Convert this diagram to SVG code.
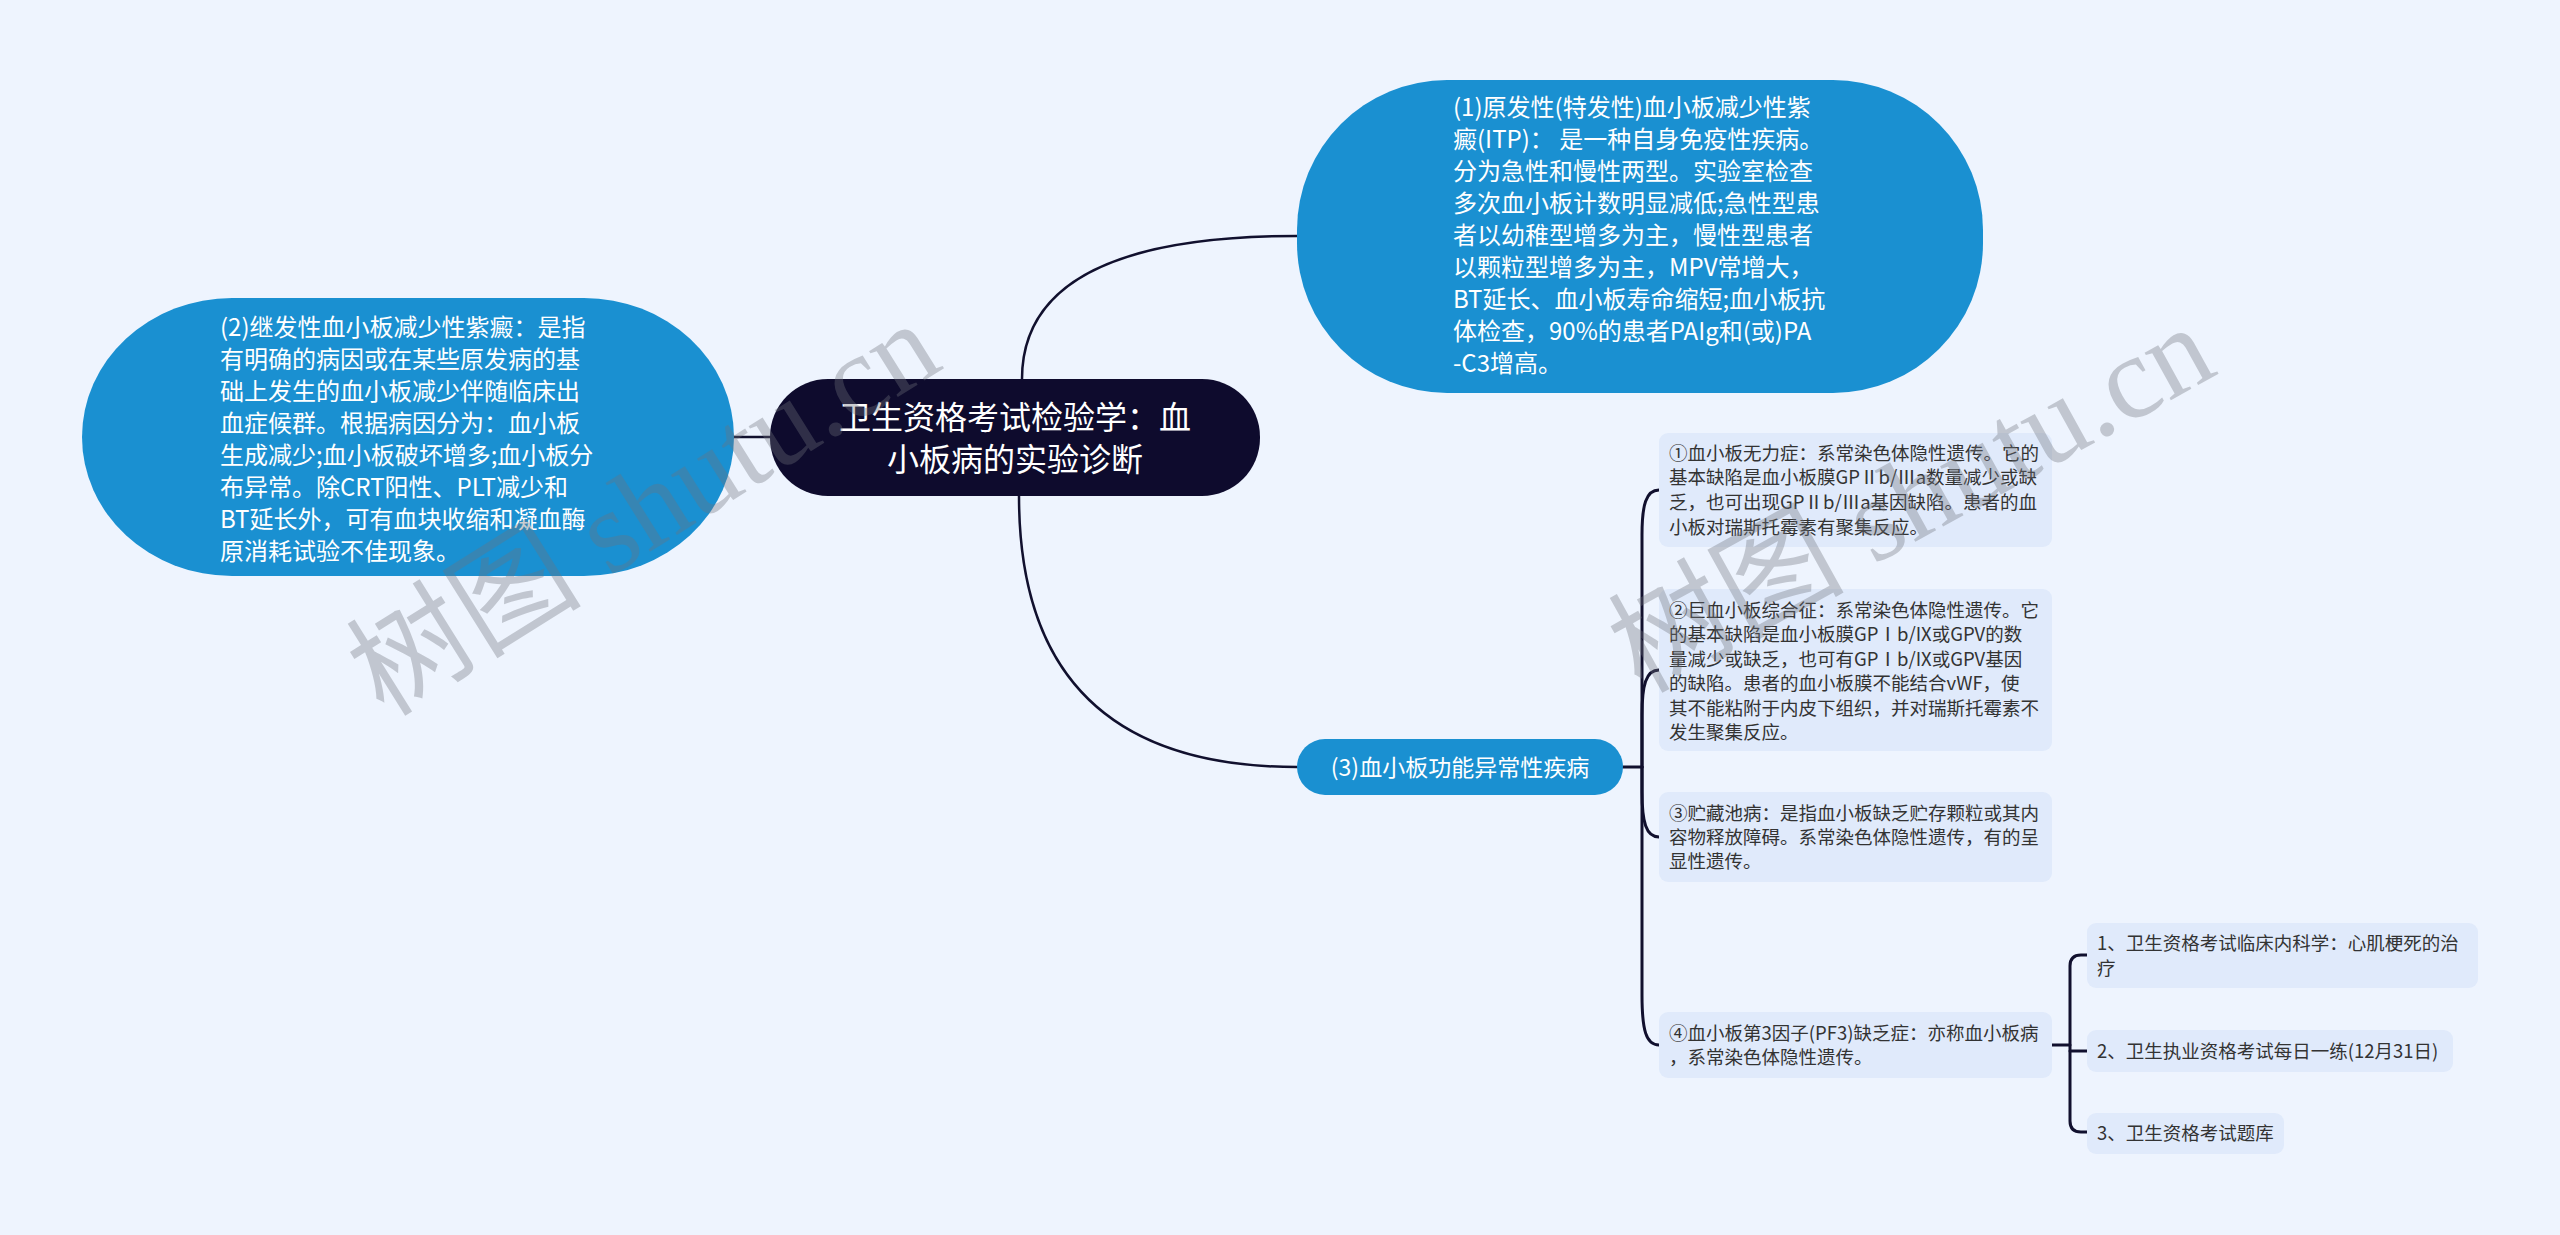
<svg xmlns="http://www.w3.org/2000/svg" width="2560" height="1235" viewBox="0 0 2560 1235">
<defs>
<style>
.bg{fill:#eef4fe}
.big{fill:#1a90d1}
.root{fill:#0e0b2d}
.box{fill:#e0eafb}
.wt{fill:#ffffff;font-family:"Noto Sans CJK SC","Liberation Sans",sans-serif}
.dk{fill:#333333;font-family:"Noto Sans CJK SC","Liberation Sans",sans-serif;font-size:18.5px}
.t24{font-size:24px}
.conn{fill:none;stroke:#11102e;stroke-width:2.5;stroke-linecap:round}
.br{fill:none;stroke:#11102e;stroke-width:3;stroke-linecap:round}
.wm{fill:#6f737c;opacity:0.35;font-family:"Liberation Serif","Noto Sans CJK SC",serif;font-size:118px}
</style>
</defs>
<rect class="bg" x="0" y="0" width="2560" height="1235"/>

<g id="connectors">
<path class="conn" d="M770 437 H733"/>
<path class="conn" d="M1022 379 Q1022 236 1297 236"/>
<path class="conn" d="M1019 496 Q1019 767 1297 767"/>
<path class="br" d="M1623 767 H1642"/>
<path class="br" d="M1642 767 L1642 535 C1642 505 1646 490 1659 490"/>
<path class="br" d="M1642 767 L1642 715 C1642 685 1646 670 1659 670"/>
<path class="br" d="M1642 767 L1642 792 C1642 822 1646 837 1659 837"/>
<path class="br" d="M1642 767 L1642 995 C1642 1030 1646 1045 1659 1045"/>
<path class="br" d="M2052 1045 H2070"/>
<path class="br" d="M2087 955 H2081 Q2070 955 2070 966 V1121 Q2070 1132 2081 1132 H2087"/>
<path class="br" d="M2070 1051 H2087"/>
</g>

<g id="node-root">
<rect class="root" x="770" y="379" width="490" height="117" rx="58" ry="58"/>
<text class="wt" font-size="32" text-anchor="middle"><tspan x="1015" y="429">卫生资格考试检验学：血</tspan><tspan x="1015" y="471">小板病的实验诊断</tspan></text>
</g>

<g id="node-1">
<rect class="big" x="1297" y="80" width="686" height="313" rx="150" ry="150"/>
<text class="wt t24">
<tspan x="1453" y="115.5">(1)原发性(特发性)血小板减少性紫</tspan>
<tspan x="1453" y="147.5">癜(ITP)： 是一种自身免疫性疾病。</tspan>
<tspan x="1453" y="179.5">分为急性和慢性两型。实验室检查</tspan>
<tspan x="1453" y="211.5">多次血小板计数明显减低;急性型患</tspan>
<tspan x="1453" y="243.5">者以幼稚型增多为主，慢性型患者</tspan>
<tspan x="1453" y="275.5">以颗粒型增多为主，MPV常增大，</tspan>
<tspan x="1453" y="307.5">BT延长、血小板寿命缩短;血小板抗</tspan>
<tspan x="1453" y="339.5">体检查，90%的患者PAIg和(或)PA</tspan>
<tspan x="1453" y="371.5">-C3增高。</tspan>
</text>
</g>

<g id="node-2">
<rect class="big" x="82" y="298" width="652" height="278" rx="150" ry="139"/>
<text class="wt t24">
<tspan x="220" y="335.5">(2)继发性血小板减少性紫癜：是指</tspan>
<tspan x="220" y="367.5">有明确的病因或在某些原发病的基</tspan>
<tspan x="220" y="399.5">础上发生的血小板减少伴随临床出</tspan>
<tspan x="220" y="431.5">血症候群。根据病因分为：血小板</tspan>
<tspan x="220" y="463.5">生成减少;血小板破坏增多;血小板分</tspan>
<tspan x="220" y="495.5">布异常。除CRT阳性、PLT减少和</tspan>
<tspan x="220" y="527.5">BT延长外，可有血块收缩和凝血酶</tspan>
<tspan x="220" y="559.5">原消耗试验不佳现象。</tspan>
</text>
</g>

<g id="node-3">
<rect class="big" x="1297" y="739" width="326" height="56" rx="28" ry="28"/>
<text class="wt" font-size="23" x="1460" y="776" text-anchor="middle">(3)血小板功能异常性疾病</text>
</g>

<g id="node-3-1">
<rect class="box" x="1659" y="433" width="393" height="114" rx="9"/>
<text class="dk">
<tspan x="1669" y="459.5">①血小板无力症：系常染色体隐性遗传。它的</tspan>
<tspan x="1669" y="484.2">基本缺陷是血小板膜GPⅡb/Ⅲa数量减少或缺</tspan>
<tspan x="1669" y="508.9">乏，也可出现GPⅡb/Ⅲa基因缺陷。患者的血</tspan>
<tspan x="1669" y="533.6">小板对瑞斯托霉素有聚集反应。</tspan>
</text>
</g>

<g id="node-3-2">
<rect class="box" x="1659" y="589" width="393" height="162" rx="9"/>
<text class="dk">
<tspan x="1669" y="616.5">②巨血小板综合征：系常染色体隐性遗传。它</tspan>
<tspan x="1669" y="641">的基本缺陷是血小板膜GPⅠb/IX或GPV的数</tspan>
<tspan x="1669" y="665.5">量减少或缺乏，也可有GPⅠb/IX或GPV基因</tspan>
<tspan x="1669" y="690">的缺陷。患者的血小板膜不能结合vWF，使</tspan>
<tspan x="1669" y="714.5">其不能粘附于内皮下组织，并对瑞斯托霉素不</tspan>
<tspan x="1669" y="739">发生聚集反应。</tspan>
</text>
</g>

<g id="node-3-3">
<rect class="box" x="1659" y="792" width="393" height="90" rx="9"/>
<text class="dk">
<tspan x="1669" y="819.5">③贮藏池病：是指血小板缺乏贮存颗粒或其内</tspan>
<tspan x="1669" y="843.5">容物释放障碍。系常染色体隐性遗传，有的呈</tspan>
<tspan x="1669" y="867.5">显性遗传。</tspan>
</text>
</g>

<g id="node-3-4">
<rect class="box" x="1659" y="1012" width="393" height="66" rx="9"/>
<text class="dk">
<tspan x="1669" y="1039.5">④血小板第3因子(PF3)缺乏症：亦称血小板病</tspan>
<tspan x="1669" y="1063.5">，系常染色体隐性遗传。</tspan>
</text>
</g>

<g id="node-4-1">
<rect class="box" x="2087" y="923" width="391" height="65" rx="9"/>
<text class="dk">
<tspan x="2097" y="949.5">1、卫生资格考试临床内科学：心肌梗死的治</tspan>
<tspan x="2097" y="974.5">疗</tspan>
</text>
</g>

<g id="node-4-2">
<rect class="box" x="2087" y="1030" width="366" height="42" rx="9"/>
<text class="dk" x="2097" y="1058">2、卫生执业资格考试每日一练(12月31日)</text>
</g>

<g id="node-4-3">
<rect class="box" x="2087" y="1113" width="197" height="41" rx="9"/>
<text class="dk" x="2097" y="1140">3、卫生资格考试题库</text>
</g>

<g id="watermarks">
<text class="wm" x="384" y="718" transform="rotate(-32 384 718)">树图 shutu.cn</text>
<text class="wm" x="1641" y="694" transform="rotate(-29 1641 694)">树图 shutu.cn</text>
</g>
</svg>
